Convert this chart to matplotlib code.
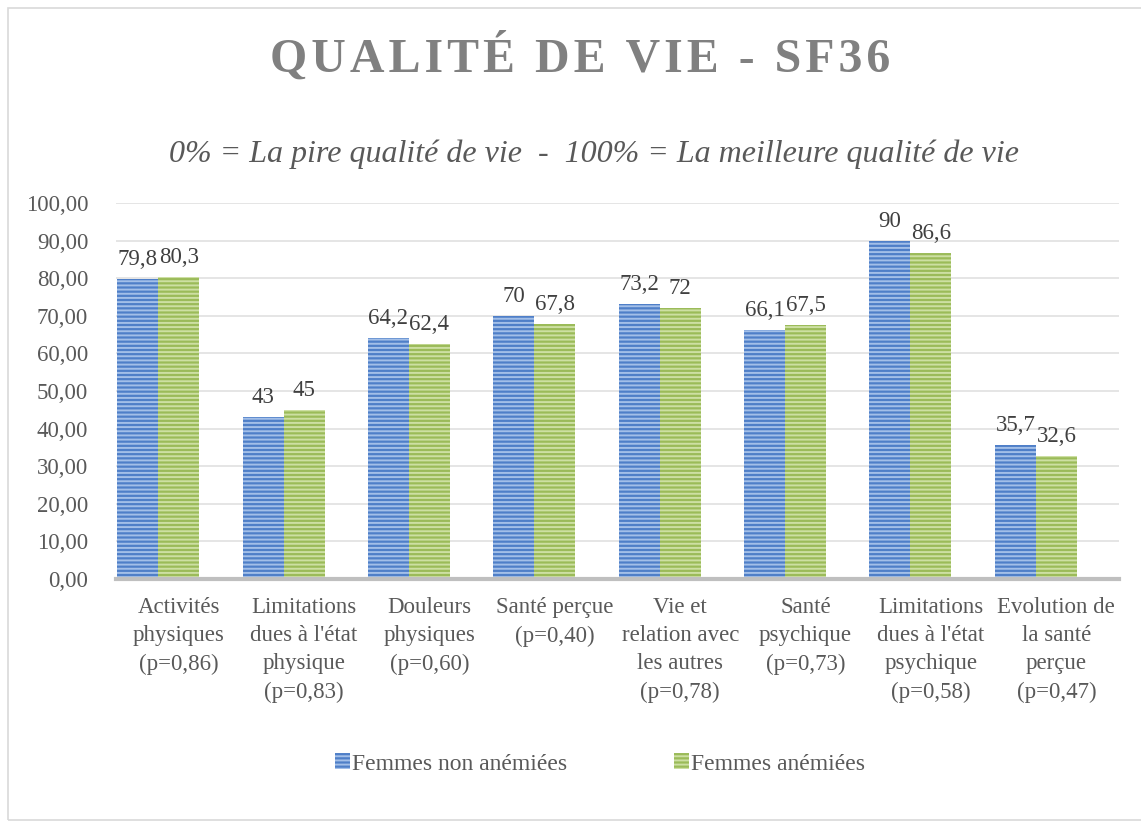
import numpy as np
import matplotlib
matplotlib.use("Agg")
import matplotlib.pyplot as plt
from matplotlib.patches import Rectangle, Patch

categories = ["Activités\nphysiques\n(p=0,86)",
              "Limitations\ndues à l'état\nphysique\n(p=0,83)",
              "Douleurs\nphysiques\n(p=0,60)",
              "Santé perçue\n(p=0,40)",
              "Vie et\nrelation avec\nles autres\n(p=0,78)",
              "Santé\npsychique\n(p=0,73)",
              "Limitations\ndues à l'état\npsychique\n(p=0,58)",
              "Evolution de\nla santé\nperçue\n(p=0,47)"]
non_anemiees = [79.8, 43, 64.2, 70, 73.2, 66.1, 90, 35.7]
anemiees = [80.3, 45, 62.4, 67.8, 72, 67.5, 86.6, 32.6]
series_names = ["Femmes non anémiées", "Femmes anémiées"]
yticks = np.arange(0, 101, 10)

plt.rcParams['font.family'] = ['Liberation Serif', 'DejaVu Serif']
plt.rcParams['hatch.linewidth'] = 1.4

fig = plt.figure(figsize=(11.41, 8.23), dpi=100)
ax = fig.add_axes([116/1141, 1-579/823, (1119-116)/1141, (579-203)/823])

x = np.arange(len(categories))
w = 0.327
cols = [("#4f7fc8", "#a3bfe8"), ("#9bbb59", "#cddfa3")]

def fmt(v):
    s = ("%g" % v)
    return s.replace(".", ",")

for i, (vals, (fc, hc)) in enumerate(zip([non_anemiees, anemiees], cols)):
    pos = x - w + i * w
    ax.bar(pos, vals, w, color=fc, edgecolor=hc, hatch="----", linewidth=0, zorder=2)
    for p, v in zip(pos, vals):
        ax.text(p, v + 2.4, fmt(v), ha="center", va="bottom", fontsize=16.5, color="#404040")

ax.set_xlim(-0.5, 7.5)
ax.set_ylim(0, 100)
ax.set_yticks(yticks)
ax.set_yticklabels(["%d,00" % t for t in yticks])
ax.set_xticks(x)
ax.set_xticklabels(categories, linespacing=1.45)
ax.tick_params(axis="y", length=0, pad=20, labelsize=16.5, labelcolor="#595959")
ax.tick_params(axis="x", length=0, pad=13, labelsize=16.5, labelcolor="#595959")
ax.grid(axis="y", color="#e0e0e0", linewidth=1.2, zorder=0)
ax.set_axisbelow(True)
for s in ["top", "right", "left"]:
    ax.spines[s].set_visible(False)
ax.spines["bottom"].set_color("#bfbfbf")
ax.spines["bottom"].set_linewidth(3)
ax.spines["bottom"].set_zorder(3)

# title with letter spacing
title = "QUALITÉ DE VIE - SF36"
spaced = "\u200a".join(title)
fig.text(580/1141, 1-57/823, spaced, ha="center", va="center", fontsize=34.5,
         fontweight="bold", color="#808080")
fig.text(594/1141, 1-154/823, "0% = La pire qualité de vie  -  100% = La meilleure qualité de vie",
         ha="center", va="center", fontsize=23, style="italic", color="#595959")

handles = [Patch(facecolor=c[0], edgecolor=c[1], hatch="----", linewidth=0) for c in cols]
fig.legend(handles, series_names, loc="center", bbox_to_anchor=(600/1141, 1-764/823),
           ncol=2, frameon=False, fontsize=17, handlelength=0.65, handleheight=0.65,
           handletextpad=0.08, columnspacing=4.5, labelcolor="#595959")

fig.patches.append(Rectangle((8/1141, 3/823), 1, 1-11/823, transform=fig.transFigure,
                             fill=False, edgecolor="#d9d9d9", linewidth=1.2))

fig.savefig("out.png", dpi=100, facecolor="white")
